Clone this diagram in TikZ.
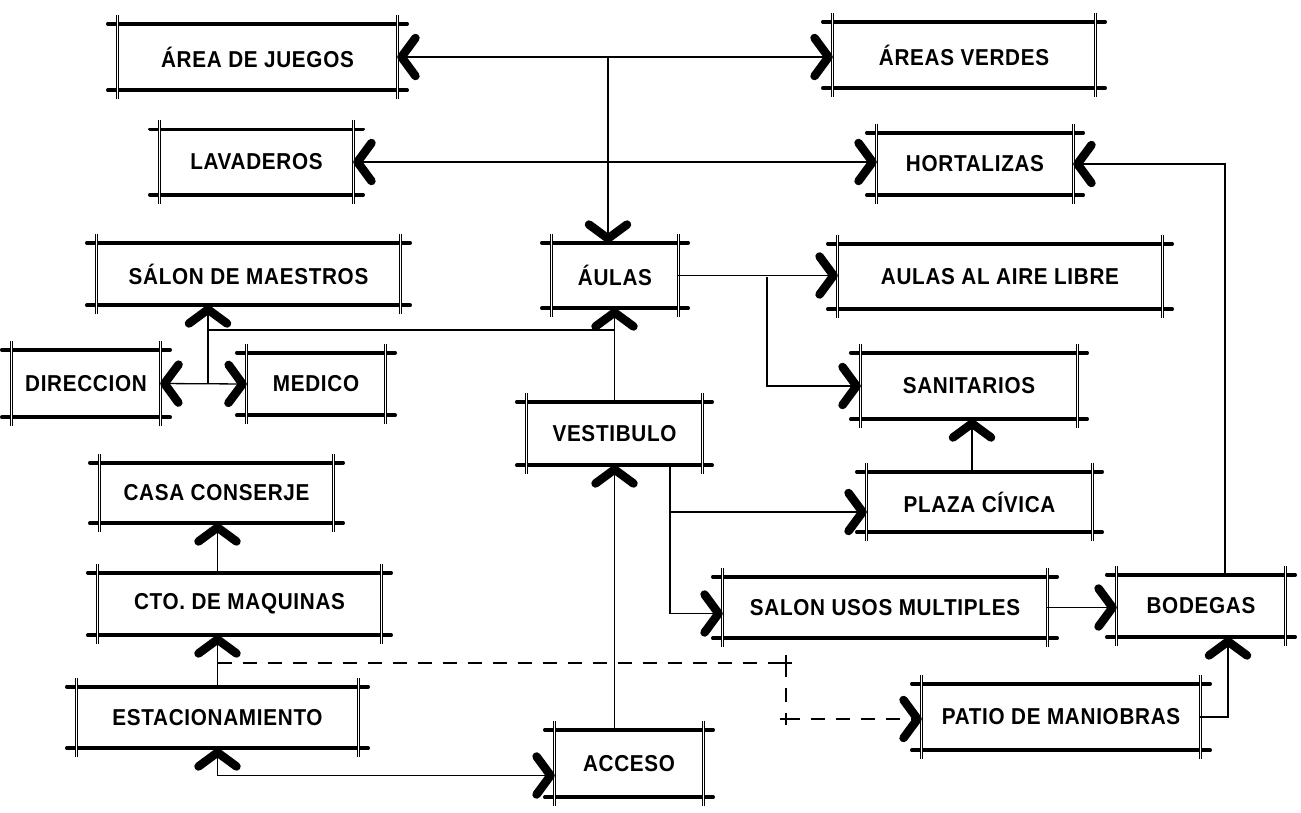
\documentclass[tikz,border=0pt]{standalone}
\usepackage{fontspec}
\setmainfont{Liberation Sans}[LetterSpace=3,FakeStretch=0.9]
\usetikzlibrary{arrows.meta}
\begin{document}
\begin{tikzpicture}[x=1pt,y=-1pt,
  room/.style 2 args={minimum width=#1, minimum height=#2, inner sep=0pt,
    font=\fontsize{23}{26}\selectfont\bfseries},
  bar/.style={line width=3.6pt, line cap=round},
  post/.style={line width=0.8pt, double, double distance=1.1pt},
  link/.style={line width=1.3pt},
  dashlink/.style={link, dash pattern=on 14pt off 11pt},
  >={Straight Barb[length=14pt, width=38pt, line width=8.5pt, round]}
]
\fill[white] (0,0) rectangle (1301,812);
\useasboundingbox (0,0) rectangle (1301,812);

% rooms
\node[room={279pt}{66pt}] (juegos)     at (257.5,57)  {ÁREA DE  JUEGOS};
\node[room={262pt}{66pt}] (verdes)     at (964,55)    {ÁREAS VERDES};
\node[room={193pt}{65pt}] (lavaderos)  at (256.5,162) {LAVADEROS};
\node[room={196pt}{62pt}] (hortalizas) at (975,164)   {HORTALIZAS};
\node[room={303pt}{62pt}] (maestros)   at (248.5,274) {SÁLON DE MAESTROS};
\node[room={126pt}{65pt}] (aulas)      at (615,275.5) {ÁULAS};
\node[room={324pt}{65pt}] (aire)       at (1000,276.5){AULAS AL AIRE LIBRE};
\node[room={148pt}{67pt}] (direccion)  at (86,383.5)  {DIRECCION};
\node[room={138pt}{62pt}] (medico)     at (316,384)   {MEDICO};
\node[room={175pt}{63pt}] (vestibulo)  at (614.5,433.5){VESTIBULO};
\node[room={216pt}{66pt}] (sanitarios) at (969,386)   {SANITARIOS};
\node[room={233pt}{60pt}] (conserje)   at (216.5,493) {CASA CONSERJE};
\node[room={225pt}{60pt}] (civica)     at (979.5,502) {PLAZA CÍVICA};
\node[room={283pt}{62pt}] (maquinas)   at (239.5,604) {CTO. DE MAQUINAS};
\node[room={324pt}{61pt}] (usos)       at (885,607.5) {SALON USOS MULTIPLES};
\node[room={168pt}{62pt}] (bodegas)    at (1201,606)  {BODEGAS};
\node[room={281pt}{61pt}] (estac)      at (217.5,717.5){ESTACIONAMIENTO};
\node[room={278pt}{66pt}] (patio)      at (1061,717)  {PATIO DE MANIOBRAS};
\node[room={148pt}{67pt}] (acceso)     at (629,763.5) {ACCESO};

% sketched frames: heavy top and bottom rules, light doubled posts
\foreach \n in {juegos,verdes,lavaderos,hortalizas,maestros,aulas,aire,
  direccion,medico,vestibulo,sanitarios,conserje,civica,maquinas,usos,
  bodegas,estac,patio,acceso}{
  \draw[bar] ([xshift=-10pt]\n.north west) -- ([xshift=10pt]\n.north east);
  \draw[bar] ([xshift=-10pt]\n.south west) -- ([xshift=10pt]\n.south east);
  \draw[post] ([yshift=9pt]\n.north west) -- ([yshift=-9pt]\n.south west);
  \draw[post] ([yshift=9pt]\n.north east) -- ([yshift=-9pt]\n.south east);
}

% junction points
\coordinate (jm) at (208,330);
\coordinate (jd) at (208,384);
\coordinate (jt) at (608,57);
\coordinate (vb) at (670,465);
\coordinate (ja) at (767,277);
\coordinate (d1) at (786,663);
\coordinate (d2) at (786,719);

% connections
\draw[link,<->] (juegos.east) -- (juegos.east -| verdes.west);
\draw[link,->] (jt) -- (jt |- aulas.north);
\draw[link,<->] (lavaderos.east) -- (lavaderos.east -| hortalizas.west);
\draw[link,->] ([xshift=24pt]bodegas.north) |- (hortalizas.east);
\draw[link,->] (aulas.east) -- (aulas.east -| aire.west);
\draw[link,->] (ja) |- (sanitarios.west);
\draw[link,->] (vestibulo.north) -- (vestibulo.north |- aulas.south);
\draw[link] (vestibulo.north |- jm) -- (jm);
\draw[link,->] (jd) -- (jd |- maestros.south);
\draw[link] (jm) -- (jd);
\draw[link,<->] (direccion.east) -- (medico.west);
\draw[link,->] (vestibulo.south |- acceso.north) -- (vestibulo.south);
\draw[link,->] (vb) |- ([yshift=-10pt]civica.west);
\draw[link,->] (vb) |- ([yshift=-6pt]usos.west);
\draw[link,->] (civica.north -| 972,0) -- (sanitarios.south -| 972,0);
\draw[link,->] (usos.east) -- (usos.east -| bodegas.west);
\draw[link,->] (patio.east) -| ([xshift=27pt]bodegas.south);
\draw[link,->] (estac.north |- maquinas.north) -- (estac.north |- conserje.south);
\draw[link,->] (estac.north) -- (estac.north |- maquinas.south);
\draw[link,<->] (estac.south) |- ([yshift=-12pt]acceso.west);

% dashed service route
\draw[dashlink] (estac.north |- d1) -- (d1);
\draw[dashlink] (d1) -- (d2);
\draw[dashlink,->] (d2) -- (d2 -| patio.west);
\draw[link] (d1) +(-6,0) -- +(6,0) (d1) +(0,-8) -- +(0,8);
\draw[link] (d2) +(-6,0) -- +(6,0) (d2) +(0,-6) -- +(0,6);
\end{tikzpicture}
\end{document}
